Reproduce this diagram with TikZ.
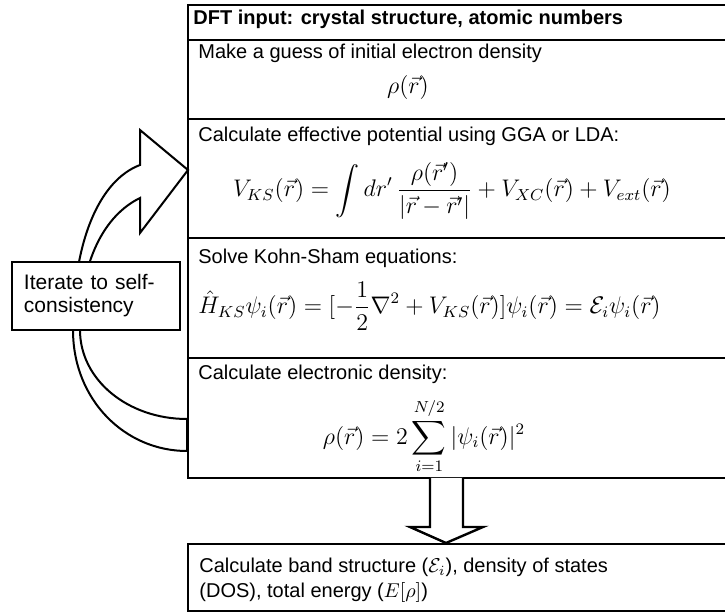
\RequirePackage{fix-cm}
\documentclass[tikz,border=0pt]{standalone}
\usepackage{amsmath,amssymb}
\usepackage[no-math]{fontspec}
\setmainfont{Liberation Sans}
\usetikzlibrary{positioning}

\begin{document}
\begin{tikzpicture}[x=0.5pt,y=-0.5pt,
  stepbox/.style={draw,line width=1.2pt,anchor=north west,outer sep=0pt,inner sep=0pt,minimum width=300pt},
  steptext/.style={anchor=base west,inner sep=0pt,align=left,font=\fontsize{10}{12.5}\selectfont},
  steptitle/.style={steptext,font=\fontsize{10}{12}\selectfont\bfseries},
  eqn/.style={inner sep=0pt,font=\fontsize{12}{14}\selectfont},
  loopband/.style={draw,fill=white,line width=1pt,line join=miter}]
  \useasboundingbox (0,0) rectangle (725,615);
  \clip (0,0) rectangle (725,615);
  % feedback arrow
  \draw[loopband] (187,451) .. controls (125,451) and (73,400) .. (73,330)
    .. controls (73,240) and (100,180) .. (140,165) -- (140,130) -- (188,170) -- (140,233) -- (140,198)
    .. controls (105,215) and (80,260) .. (80,330)
    .. controls (80,380) and (128,419) .. (187,419) -- cycle;
  \node[draw,fill=white,line width=1.2pt,minimum width=84pt,minimum height=34pt,inner sep=0pt,text width=72pt,align=left,
    font=\fontsize{10.5}{11.5}\selectfont] (iterate) at (96,296) {Iterate to self-\\consistency};
  % the steps
  \node[stepbox,minimum height=17.5pt] (input) at (188,5) {};
  \node[stepbox,minimum height=39.5pt] (guess) at (input.south west) {};
  \node[stepbox,minimum height=59.5pt] (potential) at (guess.south west) {};
  \node[stepbox,minimum height=60pt] (kohnsham) at (potential.south west) {};
  \node[stepbox,minimum height=60pt] (density) at (kohnsham.south west) {};
  \node[stepbox,minimum height=33.5pt] (result) at (188,544) {};
  \node[steptitle] (inputlabel) at ([xshift=2.5pt,yshift=-10pt]input.north west) {DFT input: crystal structure, atomic numbers};
  \node[steptext] (guesslabel) at ([xshift=5pt,yshift=-9.5pt]guess.north west) {Make a guess of initial electron density};
  \node[eqn] (guesseq) at (408,88) {$\rho(\vec{r})$};
  \node[steptext] (potentiallabel) at ([xshift=5pt,yshift=-11.5pt]potential.north west) {Calculate effective potential using GGA or LDA:};
  \node[eqn] (potentialeq) at (452,191) {$\displaystyle V_{KS}(\vec{r})=\int dr'\,\frac{\rho(\vec{r}')}{|\vec{r}-\vec{r}'|}+V_{XC}(\vec{r})+V_{ext}(\vec{r})$};
  \node[steptext] (kohnshamlabel) at ([xshift=5pt,yshift=-13pt]kohnsham.north west) {Solve Kohn-Sham equations:};
  \node[eqn,anchor=west] (kohnshameq) at (198,306) {$\displaystyle \hat{H}_{KS}\psi_i(\vec{r})=[-\frac{1}{2}\nabla^2+V_{KS}(\vec{r})]\psi_i(\vec{r})=\mathcal{E}_i\psi_i(\vec{r})$};
  \node[steptext] (densitylabel) at ([xshift=5pt,yshift=-11pt]density.north west) {Calculate electronic density:};
  \node[eqn] (densityeq) at (424,436) {$\displaystyle \rho(\vec{r})=2\sum_{i=1}^{N/2}|\psi_i(\vec{r})|^2$};
  \node[steptext] (resultlabel) at ([xshift=5.5pt,yshift=-27pt]result.north west) {Calculate band structure ($\mathcal{E}_i$), density of states\\(DOS), total energy ($E[\rho]$)};
  % down arrow
  \draw[loopband,line width=1.2pt] (430,478) -- (430,527) -- (410,527) -- (446,543) -- (483,527) -- (463,527) -- (463,478);
\end{tikzpicture}
\end{document}
